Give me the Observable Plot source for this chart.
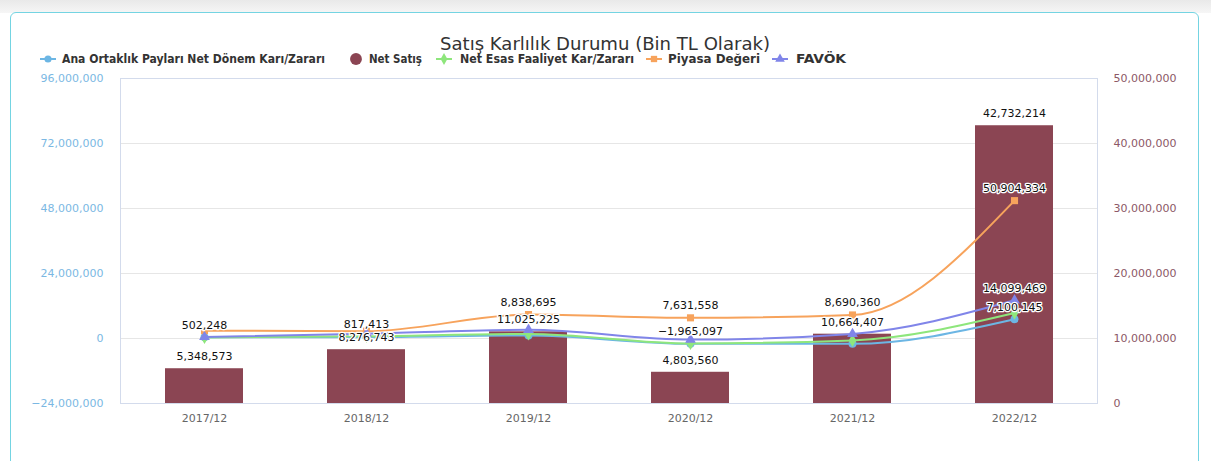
<!DOCTYPE html>
<html><head><meta charset="utf-8">
<script src="https://cdn.jsdelivr.net/npm/d3@7"></script>
<script src="https://cdn.jsdelivr.net/npm/@observablehq/plot@0.6"></script>
<style>
html,body{margin:0;padding:0;background:#fff;}
#wrap{position:relative;width:1211px;height:461px;overflow:hidden;background:linear-gradient(#e9e9e9,#f6f6f6 13px,#fff 13px);}
#card{position:absolute;left:10px;top:12px;width:1187px;height:480px;border:1.5px solid #74d4e2;border-radius:6px;background:#fff;}
#chart{position:absolute;left:0;top:0;}
</style></head><body><div id="wrap"><div id="card"></div><div id="chart"></div></div>
<script>
// ---- data ----
const periods = ["2017/12", "2018/12", "2019/12", "2020/12", "2021/12", "2022/12"];
const netSatis   = [5348573, 8276743, 11025225, 4803560, 10664407, 42732214];
const anaOrtaklik = [502248, 480000, 1100000, -1965097, -1970000, 7100145];
const netEsas    = [400000, 817413, 1700000, -1800000, -740000, 9400000];
const piyasa     = [2900000, 2700000, 8838695, 7631558, 8690360, 50904334];
const favok      = [550000, 1750000, 3200000, -400000, 1700000, 14099469];
// which line points carry a visible value label
const anaLabel    = [true, false, false, true, false, true];
const esasLabel   = [false, true, false, false, false, false];
const piyasaLabel = [false, false, true, true, true, true];
const favokLabel  = [false, false, false, false, false, true];
const leftTicks  = [-24000000, 0, 24000000, 48000000, 72000000, 96000000];
const rightTicks = [0, 10000000, 20000000, 30000000, 40000000, 50000000];
const titleText = "Satış Karlılık Durumu (Bin TL Olarak)";
const legendNames = ["Ana Ortaklık Payları Net Dönem Karı/Zararı", "Net Satış", "Net Esas Faaliyet Kar/Zararı", "Piyasa Değeri", "FAVÖK"];

// ---- styling ----
const cBlue = "#6cb6e4", cBar = "#8b4553", cGreen = "#8ee67c", cOrange = "#f7a35c", cPurple = "#8085e9";
const L0 = leftTicks[0], L1 = leftTicks[leftTicks.length - 1], R1 = rightTicks[rightTicks.length - 1];
const toLeft = v => L0 + v * (L1 - L0) / R1;
const fromLeft = v => Math.round((v - L0) * R1 / (L1 - L0));
const fmt = d3.format(",");

const table = periods.map((p, i) => ({
  period: p, bar: toLeft(netSatis[i]), netSatis: netSatis[i],
  ana: anaOrtaklik[i], esas: netEsas[i], piyasa: piyasa[i], favok: favok[i],
  anaL: anaLabel[i], esasL: esasLabel[i], piyasaL: piyasaLabel[i], favokL: favokLabel[i]
}));

const series = [
  {key: "ana", color: cBlue, symbol: "circle", lab: "anaL"},
  {key: "esas", color: cGreen, symbol: "diamond", lab: "esasL"},
  {key: "piyasa", color: cOrange, symbol: "square", lab: "piyasaL"},
  {key: "favok", color: cPurple, symbol: "triangle", lab: "favokL"}
];

const lineMarks = series.flatMap(s => [
  Plot.line(table, {x: "period", y: s.key, stroke: s.color, strokeWidth: 2, curve: "monotone-x"}),
  Plot.dot(table, {x: "period", y: s.key, fill: s.color, symbol: s.symbol, r: 4})
]);
const labelMarks = series.map(s =>
  Plot.text(table.filter(d => d[s.lab]), {x: "period", y: s.key, text: d => fmt(d[s.key]), dy: -12,
    fill: "#111", stroke: "white", strokeWidth: 2.5, fontSize: 11})
);

const plot = Plot.plot({
  width: 1211, height: 461,
  marginLeft: 120, marginRight: 114, marginTop: 78, marginBottom: 58,
  style: {background: "transparent", fontFamily: "DejaVu Sans, sans-serif", fontSize: "11px"},
  x: {domain: periods, paddingInner: 0.52, paddingOuter: 0.26, label: null},
  y: {domain: [L0, L1], label: null},
  marks: [
    Plot.ruleY(leftTicks, {stroke: "#e6e6e6"}),
    Plot.frame({stroke: "#d3dbec"}),
    Plot.axisY({ticks: leftTicks, tickFormat: fmt, tickSize: 0, tickPadding: 17, color: "#7bb8e3", label: null}),
    Plot.axisY({anchor: "right", ticks: rightTicks.map(toLeft), tickFormat: v => fmt(fromLeft(v)), tickSize: 0, tickPadding: 16, color: "#8c5866", label: null}),
    Plot.axisX({tickSize: 0, tickPadding: 11, color: "#666", label: null}),
    Plot.barY(table, {x: "period", y1: L0, y2: "bar", fill: cBar}),
    ...lineMarks,
    Plot.text(table, {x: "period", y: "bar", text: d => fmt(d.netSatis), dy: -12, fill: "#111", stroke: "white", strokeWidth: 2.5, fontSize: 11}),
    ...labelMarks
  ]
});
document.getElementById("chart").appendChild(plot);

// ---- title and legend ----
const svg = d3.select(plot);
svg.append("text").attr("x", 605).attr("y", 50).attr("text-anchor", "middle")
  .attr("font-family", "DejaVu Sans Condensed, DejaVu Sans, sans-serif").attr("font-size", 18).attr("fill", "#333")
  .attr("textLength", 330).attr("lengthAdjust", "spacingAndGlyphs").text(titleText);

const legend = [
  {name: legendNames[0], color: cBlue, symbol: d3.symbolCircle, line: true, mx: 48, tx: 62, tw: 263},
  {name: legendNames[1], color: cBar, symbol: d3.symbolCircle, line: false, mx: 356, tx: 369, tw: 53, big: true},
  {name: legendNames[2], color: cGreen, symbol: d3.symbolDiamond, line: true, mx: 444, tx: 460, tw: 174},
  {name: legendNames[3], color: cOrange, symbol: d3.symbolSquare, line: true, mx: 654, tx: 668, tw: 92},
  {name: legendNames[4], color: cPurple, symbol: d3.symbolTriangle, line: true, mx: 780, tx: 796, tw: 50}
];
const ly = 59;
legend.forEach(it => {
  const g = svg.append("g");
  if (it.line) g.append("line").attr("x1", it.mx - 8).attr("x2", it.mx + 8).attr("y1", ly).attr("y2", ly).attr("stroke", it.color).attr("stroke-width", 2);
  g.append("path").attr("transform", `translate(${it.mx},${ly})`).attr("d", d3.symbol(it.symbol, it.big ? 110 : 40)()).attr("fill", it.color);
  g.append("text").attr("x", it.tx).attr("y", ly).attr("dy", "0.35em").attr("text-anchor", "start")
    .attr("font-family", "DejaVu Sans Condensed, DejaVu Sans, sans-serif").attr("font-weight", "bold").attr("font-size", 12).attr("fill", "#333")
    .attr("textLength", it.tw).attr("lengthAdjust", "spacingAndGlyphs").text(it.name);
});
</script></body></html>
